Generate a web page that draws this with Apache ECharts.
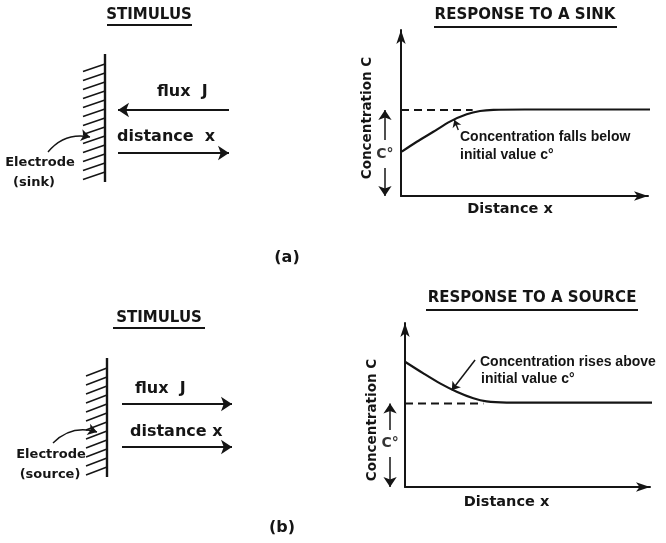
<!DOCTYPE html>
<html><head><meta charset="utf-8">
<script src="https://cdn.jsdelivr.net/npm/echarts@6/dist/echarts.min.js"></script>
<style>html,body{margin:0;padding:0;background:#fff}#c{width:666px;height:543px}</style>
</head><body><div id="c"></div>
<script>
// ---- response to a sink (distance units, concentration fraction of axis) ----
const sinkX = [0.03, 0.64, 1.31, 1.98, 2.66, 3.2, 3.74, 5.0, 10.2];
const sinkC = [0.267, 0.327, 0.387, 0.448, 0.492, 0.512, 0.519, 0.521, 0.521];
const sinkInitial = 0.518;
const sinkDashEnd = 2.9;
const sinkCStarArrows = [[[-0.65, 0.337], [-0.65, 0.518]], [[-0.65, 0.169], [-0.65, 0]]];
const sinkCStarLabel = [-0.65, 0.259];
const sinkPointer = [[2.32, 0.398], [2.16, 0.458]];
// ---- response to a source ----
const sourceX = [0, 0.75, 1.43, 2.11, 2.79, 3.33, 4.15, 6.0, 10.2];
const sourceC = [0.764, 0.693, 0.632, 0.581, 0.541, 0.522, 0.515, 0.514, 0.514];
const sourceInitial = 0.509;
const sourceDashEnd = 3.2;
const sourceCStarArrows = [[[-0.61, 0.348], [-0.61, 0.509]], [[-0.61, 0.183], [-0.61, 0]]];
const sourceCStarLabel = [-0.61, 0.274];
const sourcePointer = [[2.86, 0.774], [1.91, 0.59]];
// ---- stimulus sketches (wall at x = 0, y measured downward) ----
const topWall = [[0, 1.4], [0, 14.2]];
const topHatchY = [2.4, 3.3, 4.2, 5.1, 6.0, 6.9, 7.8, 8.7, 9.6, 10.5, 11.4, 12.3, 13.2];
const topFlux = [[12.4, 7.0], [1.3, 7.0]];
const topDistance = [[1.3, 11.3], [12.4, 11.3]];
const topPointer = [[-5.7, 11.2], [-1.5, 9.7]];
const botWall = [[0, 1.8], [0, 13.7]];
const botHatchY = [2.8, 3.7, 4.6, 5.5, 6.4, 7.3, 8.2, 9.1, 10.0, 10.9, 11.8, 12.7];
const botFlux = [[1.5, 6.4], [12.5, 6.4]];
const botDistance = [[1.5, 10.7], [12.5, 10.7]];
const botPointer = [[-5.4, 10.3], [-1.0, 9.2]];

const INK = '#151515';
const F = '"DejaVu Sans", sans-serif';
const FA = '"Liberation Sans", Arial, sans-serif';

function pairs(xs, ys) { return xs.map((x, i) => [x, ys[i]]); }
function hatches(ys, dx, dy) { return ys.map(y => ({ coords: [[dx, y + dy], [0, y]] })); }

function respAxisX(gi, nameGap, padR) {
  return {
    gridIndex: gi, type: 'value', min: 0, max: 10,
    name: 'Distance x', nameLocation: 'middle', nameGap: nameGap,
    nameTextStyle: { fontFamily: F, fontWeight: 'bold', fontSize: 14.5, color: INK, padding: [0, padR, 0, 0] },
    axisLine: { show: true, symbol: ['none', 'arrow'], symbolSize: [7, 14], lineStyle: { color: INK, width: 2 } },
    axisTick: { show: false }, axisLabel: { show: false }, splitLine: { show: false }
  };
}
function respAxisY(gi, nameGap, padR) {
  return {
    gridIndex: gi, type: 'value', min: 0, max: 1,
    name: 'Concentration C', nameLocation: 'middle', nameGap: nameGap, nameRotate: 90,
    nameTextStyle: { fontFamily: F, fontWeight: 'bold', fontSize: 13.5, color: INK, padding: [0, padR, 0, 0] },
    axisLine: { show: true, symbol: ['none', 'arrow'], symbolSize: [7, 14], lineStyle: { color: INK, width: 2 } },
    axisTick: { show: false }, axisLabel: { show: false }, splitLine: { show: false }
  };
}
function hiddenX(gi) { return { gridIndex: gi, type: 'value', min: -10, max: 14, show: false }; }
function hiddenY(gi) { return { gridIndex: gi, type: 'value', min: 0, max: 16, inverse: true, show: false }; }

function lineSeg(gi, data, arrow, width, curv) {
  return {
    type: 'lines', coordinateSystem: 'cartesian2d', xAxisIndex: gi, yAxisIndex: gi,
    clip: false, silent: true, polyline: false,
    symbol: arrow ? ['none', 'arrow'] : 'none', symbolSize: arrow || 0,
    lineStyle: { color: INK, width: width, opacity: 1, curveness: curv || 0 },
    data: data
  };
}
function text(t, x, y, size, align, font) {
  return { type: 'text', silent: true, style: {
    text: t, x: x, y: y, fill: INK,
    font: 'bold ' + size + 'px ' + (font || F),
    textAlign: align || 'left', textVerticalAlign: 'middle', align: align || 'left', verticalAlign: 'middle'
  } };
}
function underline(x1, x2, y) {
  return { type: 'line', silent: true, shape: { x1: x1, y1: y, x2: x2, y2: y }, style: { stroke: INK, lineWidth: 2 } };
}
function cstar(gi, pos) {
  return {
    type: 'scatter', xAxisIndex: gi, yAxisIndex: gi, clip: false, silent: true,
    symbol: 'circle', symbolSize: 2, itemStyle: { color: 'rgba(255,255,255,0)' },
    label: { show: true, position: 'top', distance: -9, formatter: 'C°', fontFamily: F, fontWeight: 'bold', fontSize: 14,
      color: '#000000', textBorderWidth: 0 },
    emphasis: { disabled: true },
    data: [{ value: pos }]
  };
}

const chart = echarts.init(document.getElementById('c'), null, { renderer: 'canvas' });
chart.setOption({
  backgroundColor: '#ffffff',
  animation: false,
  grid: [
    { left: 401, top: 30, width: 247, height: 166 },
    { left: 405, top: 323, width: 245, height: 164 },
    { left: 5, top: 40, width: 240, height: 160 },
    { left: 7, top: 340, width: 240, height: 160 }
  ],
  xAxis: [respAxisX(0, 6, 29), respAxisX(1, 8, 42), hiddenX(2), hiddenX(3)],
  yAxis: [respAxisY(0, 27, 10), respAxisY(1, 26, 30), hiddenY(2), hiddenY(3)],
  series: [
    { type: 'line', xAxisIndex: 0, yAxisIndex: 0, data: pairs(sinkX, sinkC), smooth: 0.3, showSymbol: false, clip: false, silent: true,
      lineStyle: { color: INK, width: 2.2 } },
    { type: 'line', xAxisIndex: 0, yAxisIndex: 0, data: [[0, sinkInitial], [sinkDashEnd, sinkInitial]], showSymbol: false, silent: true,
      lineStyle: { color: INK, width: 1.8, type: [8, 5] } },
    { type: 'line', xAxisIndex: 1, yAxisIndex: 1, data: pairs(sourceX, sourceC), smooth: 0.3, showSymbol: false, clip: false, silent: true,
      lineStyle: { color: INK, width: 2.2 } },
    { type: 'line', xAxisIndex: 1, yAxisIndex: 1, data: [[0, sourceInitial], [sourceDashEnd, sourceInitial]], showSymbol: false, silent: true,
      lineStyle: { color: INK, width: 1.8, type: [8, 5] } },
    lineSeg(0, sinkCStarArrows.map(c => ({ coords: c })), [5, 10], 1.5),
    lineSeg(1, sourceCStarArrows.map(c => ({ coords: c })), [5, 10], 1.5),
    lineSeg(0, [{ coords: sinkPointer }], [5, 7], 1.4),
    lineSeg(1, [{ coords: sourcePointer }], [5, 8], 1.5),
    cstar(0, sinkCStarLabel),
    cstar(1, sourceCStarLabel),
    lineSeg(2, [{ coords: topWall }], null, 2.4),
    lineSeg(2, hatches(topHatchY, -2.2, 0.75), null, 1.5),
    lineSeg(2, [{ coords: topFlux }, { coords: topDistance }], [5, 11], 1.8),
    lineSeg(2, [{ coords: topPointer }], [5, 9], 1.4, 0.3),
    lineSeg(3, [{ coords: botWall }], null, 2.4),
    lineSeg(3, hatches(botHatchY, -2.1, 0.8), null, 1.5),
    lineSeg(3, [{ coords: botFlux }, { coords: botDistance }], [5, 11], 1.8),
    lineSeg(3, [{ coords: botPointer }], [5, 9], 1.4, 0.3)
  ],
  graphic: [
    text('STIMULUS', 149, 15, 15, 'center'),
    underline(107, 192, 25),
    text('RESPONSE TO A SINK', 525, 15, 15, 'center'),
    underline(434, 617, 27),
    text('flux  J', 157, 92, 16),
    text('distance  x', 117, 137, 16),
    text('Electrode', 40, 163, 13, 'center'),
    text('(sink)', 34, 183, 13, 'center'),
    text('Concentration falls below', 460, 137, 14, 'left', FA),
    text('initial value c°', 460, 155, 14, 'left', FA),
    text('(a)', 287, 258, 16, 'center'),
    text('STIMULUS', 159, 318, 15, 'center'),
    underline(113, 205, 328),
    text('RESPONSE TO A SOURCE', 532, 298, 15, 'center'),
    underline(426, 638, 310),
    text('flux  J', 135, 389, 16),
    text('distance x', 130, 432, 16),
    text('Electrode', 51, 455, 13, 'center'),
    text('(source)', 50, 475, 13, 'center'),
    text('Concentration rises above', 480, 362, 14, 'left', FA),
    text('initial value c°', 481, 379, 14, 'left', FA),
    text('(b)', 282, 528, 16, 'center')
  ]
});
</script></body></html>
